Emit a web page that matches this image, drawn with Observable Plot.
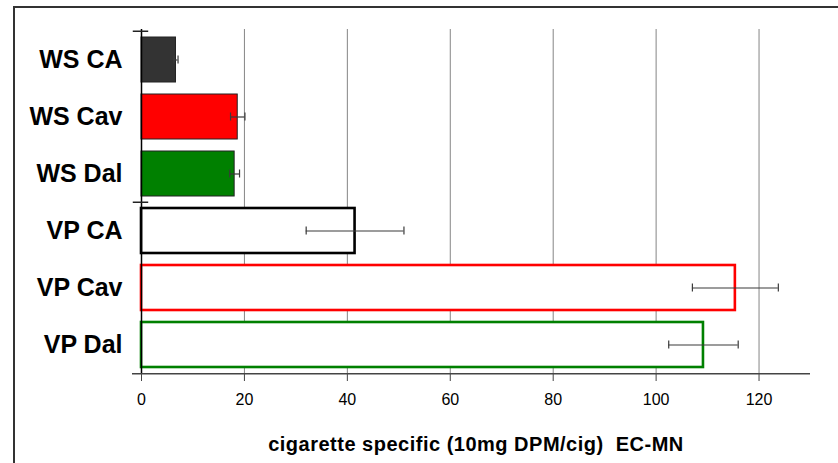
<!DOCTYPE html>
<html>
<head>
<meta charset="utf-8">
<script src="https://cdn.jsdelivr.net/npm/d3@7"></script>
<script src="https://cdn.jsdelivr.net/npm/@observablehq/plot@0.6"></script>
<style>
  html, body { margin: 0; padding: 0; background: #fff; }
  #wrap { position: relative; width: 838px; height: 463px; overflow: hidden; }
  #frame { position: absolute; left: 13px; top: 6px; width: 900px; height: 600px;
           border-top: 2px solid #333; border-left: 2px solid #333; }
  #chart { position: absolute; left: 0; top: 0; }
  svg text { white-space: pre; }
</style>
</head>
<body>
<div id="wrap"><div id="frame"></div><div id="chart"></div></div>
<script>
// ---- data ----
const categories = ["WS CA", "WS Cav", "WS Dal", "VP CA", "VP Cav", "VP Dal"];
const groups     = ["WS", "WS", "WS", "VP", "VP", "VP"];
const types      = ["CA", "Cav", "Dal", "CA", "Cav", "Dal"];
const values     = [6.7, 18.7, 18.1, 41.5, 115.4, 109.2];
const errors     = [0.4, 1.4, 0.95, 9.5, 8.35, 6.75];
const xTicks     = [0, 20, 40, 60, 80, 100, 120];
const xTitle     = "cigarette specific (10mg DPM/cig)  EC-MN";

const data = categories.map((c, i) => ({
  cat: c, group: groups[i], type: types[i], value: values[i], err: errors[i]
}));

// ---- styles ----
const typeColor = {CA: "#333333", Cav: "#ff0000", Dal: "#008000"};
const outlineColor = {CA: "#000000", Cav: "#ff0000", Dal: "#008000"};

const plot = Plot.plot({
  width: 838,
  height: 463,
  marginLeft: 141,
  marginRight: 28,
  marginTop: 29,
  marginBottom: 89,
  style: {fontFamily: "'Liberation Sans', Arial, sans-serif", background: "transparent", color: "#000"},
  x: {domain: [0, 130]},
  y: {domain: categories, paddingInner: 0.2174, paddingOuter: 0.1087},
  marks: [
    // vertical gridlines
    Plot.ruleX(xTicks.filter(d => d > 0), {stroke: "#858585", strokeWidth: 1}),
    // bars
    Plot.barX(data, {
      x: "value", y: "cat",
      fill: d => d.group === "WS" ? typeColor[d.type] : "#ffffff",
      stroke: d => d.group === "WS" ? "#222222" : outlineColor[d.type],
      strokeWidth: d => d.group === "WS" ? 1 : 2.6
    }),
    // error bars
    Plot.ruleY(data, {y: "cat", x1: d => d.value - d.err, x2: d => d.value + d.err, stroke: "#3a3a3a", strokeWidth: 1.2}),
    Plot.tickX(data, {x: d => d.value - d.err, y: "cat", insetTop: 18.5, insetBottom: 18.5, stroke: "#3a3a3a", strokeWidth: 1.2}),
    Plot.tickX(data, {x: d => d.value + d.err, y: "cat", insetTop: 18.5, insetBottom: 18.5, stroke: "#3a3a3a", strokeWidth: 1.2}),
    // left axis line
    Plot.ruleX([0], {stroke: "#000", strokeWidth: 1.5}),
    // category boundary ticks on the value axis
    Plot.ruleY([categories[0], categories[3]], {x1: -1.6, x2: 1.4, dy: -28.75, stroke: "#222", strokeWidth: 1.5}),
    // bottom axis line (with crossing tick)
    Plot.ruleY([categories[5]], {x1: -1.75, x2: 130, dy: 28.75, stroke: "#444", strokeWidth: 1.5}),
    Plot.axisX({ticks: xTicks, tickSize: 7, tickPadding: 12, fontSize: 16, label: null, stroke: "#444"}),
    Plot.axisY({tickSize: 0, tickPadding: 19, fontSize: 25, fontWeight: "bold", label: null}),
    Plot.text([xTitle], {frameAnchor: "bottom", dy: 76, fontSize: 20, fontWeight: "bold", fill: "#000"})
  ]
});
d3.select(plot).selectAll("text")
  .filter(function() { return this.textContent === xTitle; })
  .style("letter-spacing", "0.5px");
document.getElementById("chart").appendChild(plot);
</script>
</body>
</html>
